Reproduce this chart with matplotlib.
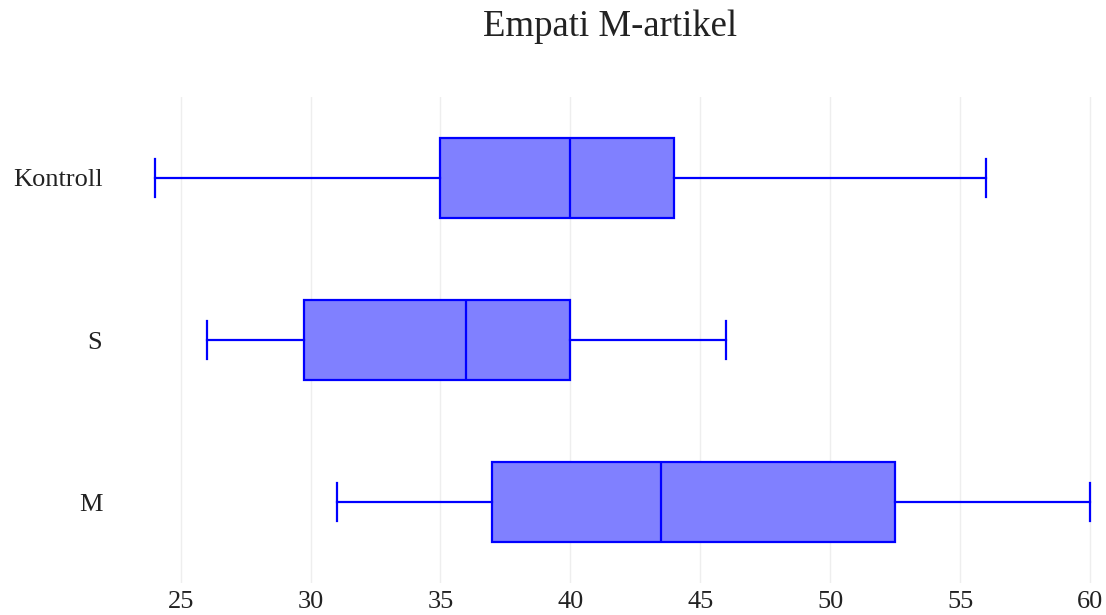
import matplotlib
matplotlib.use("Agg")
import matplotlib.pyplot as plt

# data
groups = ["Kontroll", "S", "M"]
whislo = [24, 26, 31]
q1 = [35, 29.75, 37]
med = [40, 36, 43.5]
q3 = [44, 40, 52.5]
whishi = [56, 46, 60]
x_ticks = [25, 30, 35, 40, 45, 50, 55, 60]

BLUE = "#0000ff"
FILL = "#8080ff"

plt.rcParams["font.family"] = ["Liberation Serif", "DejaVu Serif"]

fig = plt.figure(figsize=(11.06, 6.15), dpi=100, facecolor="white")
ax = fig.add_axes([0.1164, 0.052, 0.875, 0.7903])

stats = []
for i, g in enumerate(groups):
    stats.append(dict(label=g, whislo=whislo[i], q1=q1[i], med=med[i],
                      q3=q3[i], whishi=whishi[i], fliers=[]))

positions = [2, 1, 0]
ax.bxp(stats, positions=positions, vert=False, widths=0.49, capwidths=0.24,
       patch_artist=True, showfliers=False,
       boxprops=dict(facecolor=FILL, edgecolor=BLUE, linewidth=1.6),
       medianprops=dict(color=BLUE, linewidth=1.6),
       whiskerprops=dict(color=BLUE, linewidth=1.6),
       capprops=dict(color=BLUE, linewidth=1.6))

ax.set_xlim(23.0, 60.25)
ax.set_ylim(-0.5, 2.5)
ax.set_xticks(x_ticks)
ax.set_yticks(positions)
ax.set_yticklabels(groups)
ax.grid(axis="x", color="#eeeeee", linewidth=1)
ax.set_axisbelow(True)
for s in ax.spines.values():
    s.set_visible(False)
ax.tick_params(axis="both", length=0, labelsize=19, colors="#222222")
ax.tick_params(axis="y", pad=19)
ax.tick_params(axis="x", pad=6)

fig.text(0.552, 0.956, "Empati M-artikel", ha="center", va="center",
         fontsize=26.5, color="#222222")

fig.savefig("out.png", dpi=100, facecolor="white")
